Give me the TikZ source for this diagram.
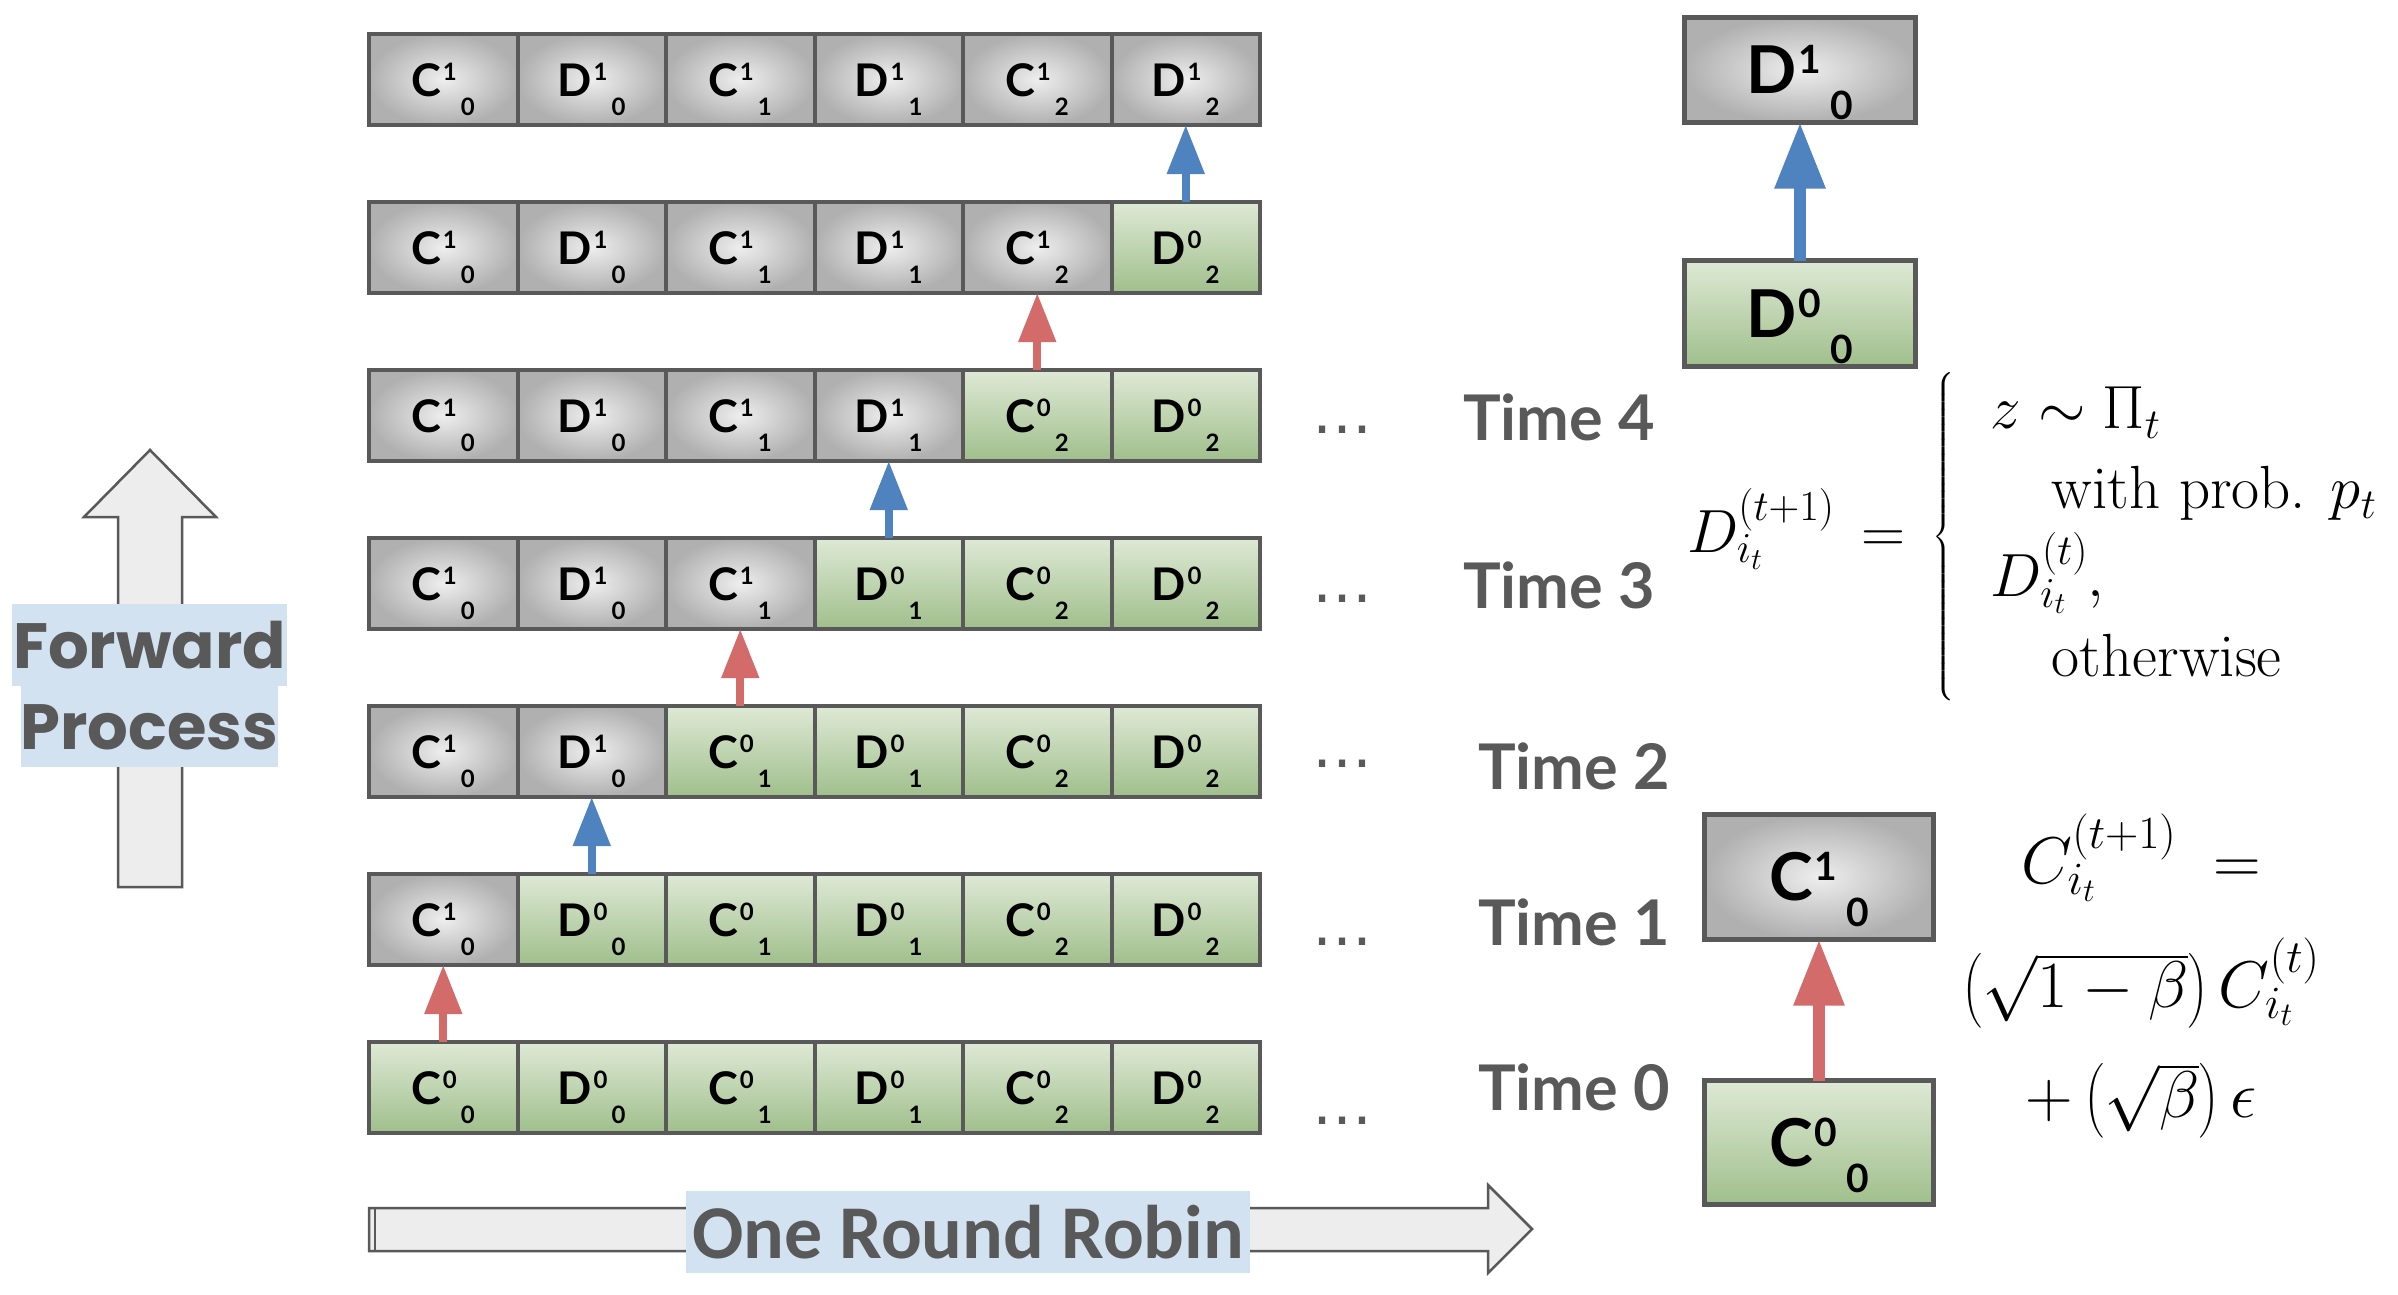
\RequirePackage{fix-cm}
\documentclass[tikz,border=0pt]{standalone}
\usepackage{amsmath}
\usepackage{fontspec}
\newfontfamily\labfont{Lato}
\newfontfamily\popfont{Poppins}
\newfontfamily\dotfont{DejaVu Sans}
\newfontfamily\rrfont{Carlito}
\usetikzlibrary{arrows.meta}

\definecolor{bord}{HTML}{595959}
\definecolor{gtop}{HTML}{DEE9D5}
\definecolor{gbot}{HTML}{A0BF8C}
\definecolor{gin}{HTML}{EEEEEE}
\definecolor{gout}{HTML}{B0B0B0}
\definecolor{redA}{HTML}{D46B6B}
\definecolor{blueA}{HTML}{4F83C0}
\definecolor{afill}{HTML}{EDEDED}
\definecolor{hl}{HTML}{D3E2F1}
\definecolor{txt}{HTML}{595959}

\newcommand\cellf{\labfont\bfseries\fontsize{45}{50}\selectfont}
\newcommand\bigcellf{\labfont\bfseries\fontsize{66}{70}\selectfont}
\newcommand\cl[3]{#1\kern1.5pt\raisebox{16pt}{\fontsize{24}{24}\selectfont #2}\kern4pt\raisebox{-19pt}{\fontsize{24}{24}\selectfont #3}}
\newcommand\bcl[3]{#1\kern2pt\raisebox{20pt}{\fontsize{39}{39}\selectfont #2}\kern9pt\raisebox{-26pt}{\fontsize{39}{39}\selectfont #3}}

\tikzset{
  cell/.style={draw=bord, line width=4pt, rectangle, inner sep=0pt, outer sep=0pt,
    minimum width=148.5pt, minimum height=91pt, text height=60pt, text depth=26pt, font=\cellf},
  graycell/.style={shading=radial, inner color=gin, outer color=gout},
  greencell/.style={top color=gtop, bottom color=gbot},
  cellkind/.code={\ifnum#1=1 \pgfkeysalso{/tikz/greencell}\else\pgfkeysalso{/tikz/graycell}\fi},
  bigcell/.style={draw=bord, line width=5pt, rectangle, inner sep=0pt, outer sep=0pt,
    text height=75pt, text depth=28pt, font=\bigcellf},
  smallred/.style={draw=redA, line width=8pt, -{Triangle[width=36pt,length=49pt]}},
  smallblue/.style={draw=blueA, line width=8pt, -{Triangle[width=36pt,length=49pt]}},
  bigred/.style={draw=redA, line width=12pt, -{Triangle[width=48pt,length=66pt]}},
  bigblue/.style={draw=blueA, line width=12pt, -{Triangle[width=48pt,length=66pt]}},
  bigarrow/.style={fill=afill, draw=bord, line width=2.5pt, line join=miter},
  hlbox/.style={fill=hl, inner sep=0pt, text height=46pt, text depth=0pt, text=txt,
    font=\popfont\bfseries\fontsize{64}{64}\selectfont},
  timelab/.style={inner sep=0pt, anchor=base west, text=txt, font=\labfont\bfseries\fontsize{63}{63}\selectfont},
  dotlab/.style={inner sep=0pt, anchor=base, text=txt, font=\dotfont\fontsize{60}{60}\selectfont},
  eq/.style={inner sep=0pt, font=\fontsize{61}{80}\selectfont},
  ceqs/.style={inner sep=0pt, anchor=base, font=\fontsize{66}{80}\selectfont}
}

\begin{document}
\begin{tikzpicture}[x=1pt,y=-1pt]
\useasboundingbox (0,0) rectangle (2398,1295);

% forward process arrow
\draw[bigarrow] (118,887) -- (118,517) -- (84,517) -- (150,450) -- (216,517) -- (182,517) -- (182,887) -- cycle;
\node[hlbox, minimum width=275pt, minimum height=82pt] (fw1) at (149.5,645) {Forward};
\node[hlbox, minimum width=255pt, minimum height=81pt] (fw2) at (149.5,726.5) {Process};

% grid
\foreach \r in {1,...,7}{
  \foreach \c in {1,...,6}{
    \ifnum\c>\numexpr7-\r\relax \def\isg{1}\def\supv{0}\else\def\isg{0}\def\supv{1}\fi
    \ifodd\c \def\lt{C}\else\def\lt{D}\fi
    \pgfmathtruncatemacro\sbv{(\c-1)/2}
    \node[cell, cellkind=\isg] (r\r-\c) at ({369+(\c-0.5)*148.5},{79.5+(\r-1)*168}) {\cl{\lt}{\supv}{\sbv}};
  }
}

% small arrows
\draw[smallred]  (r7-1.north) -- (r6-1.south);
\draw[smallblue] (r6-2.north) -- (r5-2.south);
\draw[smallred]  (r5-3.north) -- (r4-3.south);
\draw[smallblue] (r4-4.north) -- (r3-4.south);
\draw[smallred]  (r3-5.north) -- (r2-5.south);
\draw[smallblue] (r2-6.north) -- (r1-6.south);

% dots and time labels
\node[dotlab] (dt4) at (1342,433) {…};
\node[dotlab] (dt3) at (1342,602) {…};
\node[dotlab] (dt2) at (1342,767) {…};
\node[dotlab] (dt1) at (1342,945) {…};
\node[dotlab] (dt0) at (1342,1124) {…};
\node[timelab] (t4) at (1463,440) {Time 4};
\node[timelab] (t3) at (1463,608) {Time 3};
\node[timelab] (t2) at (1478,789) {Time 2};
\node[timelab] (t1) at (1478,945) {Time 1};
\node[timelab] (t0) at (1478,1110) {Time 0};

% round robin arrow
\draw[bigarrow] (369,1208) -- (1488,1208) -- (1488,1185) -- (1532,1229) -- (1488,1273) -- (1488,1251) -- (369,1251) -- cycle;
\draw[draw=bord, line width=2.5pt] (375,1208) -- (375,1251);
\node[fill=hl, inner sep=0pt, minimum width=564pt, minimum height=82pt, text height=52pt, text depth=0pt, text=txt,
  font=\rrfont\bfseries\fontsize{76}{76}\selectfont] (rr) at (968,1232) {One Round Robin};

% right-hand boxes
\node[bigcell, graycell, minimum width=231pt, minimum height=105pt] (d10) at (1800,70) {\bcl{D}{1}{0}};
\node[bigcell, greencell, minimum width=231pt, minimum height=106pt] (d00) at (1800,313.5) {\bcl{D}{0}{0}};
\draw[bigblue] (d00.north) -- (d10.south);
\node[bigcell, graycell, minimum width=229pt, minimum height=125pt] (c10) at (1819,877) {\bcl{C}{1}{0}};
\node[bigcell, greencell, minimum width=229pt, minimum height=124pt] (c00) at (1819,1142.5) {\bcl{C}{0}{0}};
\draw[bigred] (c00.north) -- (c10.south);

% formulas
\node[eq, anchor=base west] (deq) at (1687,552)
  {$D_{i_t}^{(t+1)}\,=\,\left\{\kern36pt\begin{array}{@{}l@{}} z\sim\Pi_t\\ \quad\text{with prob. }p_t\\ D_{i_t}^{(t)},\\ \quad\text{otherwise}\end{array}\right.$};
\node[ceqs] (ceq1) at (2141,883) {$C_{i_t}^{(t+1)}\;=$};
\node[ceqs] (ceq2) at (2141,1007) {$\bigl(\sqrt{1-\beta}\bigr)\, C_{i_t}^{(t)}$};
\node[ceqs] (ceq3) at (2141,1117) {$+\,\bigl(\sqrt{\beta}\bigr)\,\epsilon$};
\end{tikzpicture}
\end{document}
